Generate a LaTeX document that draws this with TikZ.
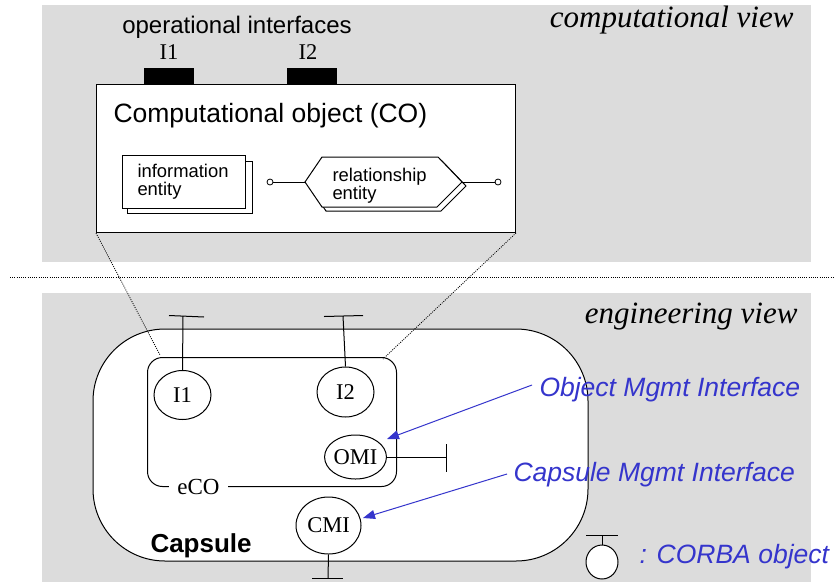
\documentclass[tikz,border=0pt]{standalone}
\usepackage{fontspec}
\setmainfont{Liberation Sans}
\newfontfamily\serif{Liberation Serif}
\usetikzlibrary{shapes.geometric,arrows.meta}
\definecolor{panel}{HTML}{DCDCDC}
\definecolor{note}{HTML}{3535CC}
\newcommand{\fs}[1]{\fontsize{#1}{#1}\selectfont}

\begin{document}
\begin{tikzpicture}[x=1pt,y=-1pt,line width=1pt,
  port/.style={ellipse,draw,fill=white,inner sep=0pt,font=\serif\fs{22.5}},
  blk/.style={draw,fill=black,inner sep=0pt,minimum width=49pt,minimum height=16pt,anchor=north west},
  zoomline/.style={line width=0.8pt,dash pattern=on 1pt off 1.2pt},
  tbar/.style={line width=1pt},
  callout/.style={note,line width=1pt,-{Triangle[length=12pt,width=9pt]}},
  bluetxt/.style={note,font=\itshape\fs{26.5},anchor=base west,inner sep=0pt},
  viewtxt/.style={font=\serif\itshape\fs{31},anchor=base east,inner sep=0pt},
  entitytxt/.style={font=\fontsize{18.4}{18}\selectfont,align=left,anchor=base west,inner sep=0pt},
  dot/.style={circle,draw,fill=white,inner sep=0pt,minimum size=6pt,line width=0.8pt}]

\useasboundingbox (0,0) rectangle (834,584);

% background panels and separator
\fill[panel] (42,5) rectangle (811,262);
\fill[panel] (42,293) rectangle (811,582);
\coordinate (sepL) at (10,277);
\coordinate (sepR) at (834,277);
\draw[zoomline] (sepL) -- (sepR);

% ---------- computational view ----------
\node[viewtxt] (cview) at (794,27) {computational view};
\node[font=\fs{24},anchor=base,inner sep=0pt] (opif) at (237,33) {operational interfaces};
\node[font=\serif\fs{22.5},anchor=base,inner sep=0pt] (ci1) at (169,59) {I1};
\node[font=\serif\fs{22.5},anchor=base,inner sep=0pt] (ci2) at (308,59) {I2};
\node[blk] (b1) at (144,68) {};
\node[blk] (b2) at (287,68) {};

\node[draw,fill=white,inner sep=0pt,minimum width=419pt,minimum height=148pt,anchor=north west] (co) at (96,84) {};
\node[font=\fs{26.5},anchor=base west,inner sep=0pt] (cotitle) at (113,122) {Computational object (CO)};

% information entity (stacked boxes)
\draw[fill=white] (127,161) rectangle (252,213);
\node[draw,fill=white,inner sep=0pt,minimum width=123pt,minimum height=53pt,anchor=north west] (info) at (122,155) {};
\node[entitytxt] (infotxt) at (137,195) {information\\entity};

% relationship entity (stacked hexagons)
\draw[fill=white] (309,186) -- (326,161) -- (442,161) -- (466,186) -- (441,211) -- (326,211) -- cycle;
\draw[fill=white] (305,182) -- (322,157) -- (438,157) -- (462,182) -- (437,207) -- (322,207) -- cycle;
\coordinate (relL) at (305,182);
\coordinate (relR) at (462,182);
\node[entitytxt] (reltxt) at (332,199) {relationship\\entity};
\node[dot] (dotL) at (270,182) {};
\node[dot] (dotR) at (498,182) {};
\draw (dotL) -- (relL);
\draw (relR) -- (dotR);

% ---------- engineering view ----------
\node[viewtxt] (eview) at (798,323) {engineering view};

% capsule
\draw[fill=white,rounded corners=72pt] (93,329) rectangle (588,561);
\node[font=\bfseries\fs{26},anchor=base west,inner sep=0pt] (caps) at (150,552) {Capsule};

% engineering computational object
\node[draw,rounded corners=15pt,inner sep=0pt,minimum width=249pt,minimum height=129pt,anchor=north west] (eco) at (147,357) {};
\node[fill=white,font=\serif\fs{23},inner xsep=8pt,inner ysep=0pt] (ecolbl) at (198.5,487) {eCO};

% zoom lines from CO to eCO
\coordinate (ecoTL) at (160,355);
\coordinate (ecoTR) at (383,359);
\draw[zoomline] (co.south west) -- (ecoTL);
\draw[zoomline] (co.south east) -- (ecoTR);

% interfaces
\node[port,minimum width=57pt,minimum height=49pt] (i1) at (182.5,395) {I1};
\node[port,minimum width=57pt,minimum height=50pt] (i2) at (345.5,392) {I2};
\node[port,minimum width=57pt,minimum height=44pt] (omi) at (355.5,457) {OMI};
\node[port,minimum width=65pt,minimum height=57pt] (cmi) at (328.5,525.5) {CMI};

% CORBA stubs
\coordinate (i1t) at (183,316);
\draw (i1.north) -- (i1t);
\draw[tbar] (169,315.5) -- (204,317);
\coordinate (i2t) at (343,316);
\draw (i2.north) -- (i2t);
\draw[tbar] (324,316.5) -- (363,315.5);
\coordinate (omit) at (446,457);
\draw (omi.east) -- (omit);
\draw[tbar] (446,444) -- (446,472);
\coordinate (cmit) at (328,578);
\draw (cmi.south) -- (cmit);
\draw[tbar] (312,578) -- (343,578);

% callouts
\node[bluetxt] (omitxt) at (539,396) {Object Mgmt Interface};
\node[bluetxt] (cmitxt) at (513,481) {Capsule Mgmt Interface};
\coordinate (omiS) at (532,385);
\coordinate (cmiS) at (507,474);
\coordinate (omiE) at (387,439);
\coordinate (cmiE) at (363,518);
\draw[callout] (omiS) -- (omiE);
\draw[callout] (cmiS) -- (cmiE);

% legend
\node[ellipse,draw,fill=white,inner sep=0pt,minimum width=32pt,minimum height=34pt] (leg) at (602,562) {};
\coordinate (legt) at (602,535);
\draw (leg.north) -- (legt);
\draw[tbar] (586,535) -- (618,535);
\node[bluetxt] (legtxt) at (639,563) {: CORBA object};
\end{tikzpicture}
\end{document}
